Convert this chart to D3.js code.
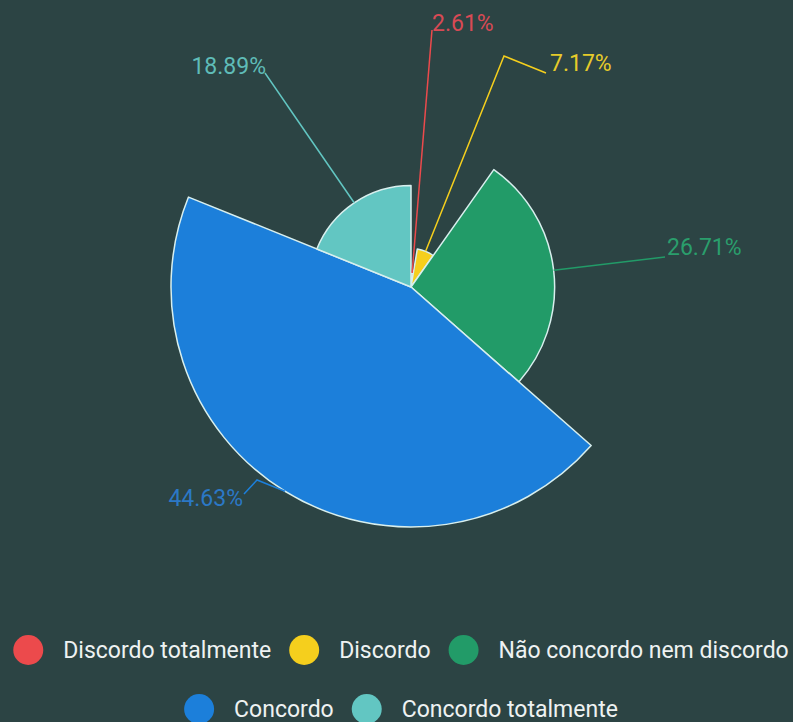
<!DOCTYPE html>
<html>
<head>
<meta charset="utf-8">
<script src="https://cdn.jsdelivr.net/npm/d3@7"></script>
<style>
  html, body { margin: 0; padding: 0; background: #2c4444; }
  svg { display: block; }
</style>
</head>
<body>
<div id="chart"></div>
<script>
var width = 793, height = 722;

// data
var categories = ["Discordo totalmente", "Discordo", "Não concordo nem discordo", "Concordo", "Concordo totalmente"];
var values = [2.61, 7.17, 26.71, 44.63, 18.89];
var colors = ["#ec4a4c", "#f5cf1d", "#229b68", "#1c7fda", "#62c6c2"];
var labelColors = ["#d84a55", "#e6cb2a", "#2a9e6c", "#2b78c6", "#5fbcb8"];

// label placement (elbow point, line end, text offset)
var labelElbow = [[432, 30], [504, 56], [665, 257], [257, 480], [265, 73]];
var labelEnd   = [[432, 30], [546, 73], [665, 257], [244, 494], [265, 73]];
var labelDx = [0, 4, 2, -1, 1];
var labelDy = [-7, -10, -10, 4, -7];
var labelAnchor = ["start", "start", "start", "end", "end"];
var legendRows = [[0, 1, 2], [3, 4]];

var cx = 411, cy = 287, maxR = 240;

var svg = d3.select("#chart").append("svg")
  .attr("width", width)
  .attr("height", height);

svg.append("rect")
  .attr("width", width)
  .attr("height", height)
  .attr("fill", "#2c4444");

var data = values.map(function(v, i) { return {name: categories[i], value: v, i: i}; });

// nightingale rose: angle and radius both follow value
var rScale = d3.scaleLinear().domain([0, d3.max(values)]).range([0, maxR]);
var pie = d3.pie().sort(null).value(function(d) { return d.value; });
var arcs = pie(data);

var arc = d3.arc()
  .innerRadius(0)
  .outerRadius(function(d) { return rScale(d.data.value); });

var g = svg.append("g").attr("transform", "translate(" + cx + "," + cy + ")");

g.selectAll("path.slice")
  .data(arcs)
  .enter().append("path")
  .attr("class", "slice")
  .attr("d", arc)
  .attr("fill", function(d) { return colors[d.data.i]; })
  .attr("stroke", "#d8efee")
  .attr("stroke-width", 1.5)
  .attr("stroke-linejoin", "round");

// label lines
svg.selectAll("polyline.lbl")
  .data(arcs)
  .enter().append("polyline")
  .attr("class", "lbl")
  .attr("fill", "none")
  .attr("stroke", function(d) { return colors[d.data.i]; })
  .attr("stroke-width", 1.5)
  .attr("points", function(d) {
    var a = (d.startAngle + d.endAngle) / 2,
      r = rScale(d.data.value);
    var sx = cx + Math.sin(a) * r, sy = cy - Math.cos(a) * r;
    var i = d.data.i;
    return [[sx, sy], labelElbow[i], labelEnd[i]].map(function(p) { return p.join(","); }).join(" ");
  });

svg.selectAll("text.lbl")
  .data(arcs)
  .enter().append("text")
  .attr("class", "lbl")
  .attr("x", function(d) { return labelEnd[d.data.i][0] + labelDx[d.data.i]; })
  .attr("y", function(d) { return labelEnd[d.data.i][1] + labelDy[d.data.i]; })
  .attr("text-anchor", function(d) { return labelAnchor[d.data.i]; })
  .attr("dominant-baseline", "central")
  .style("font-family", "Roboto, sans-serif")
  .style("font-size", "23px")
  .attr("fill", function(d) { return labelColors[d.data.i]; })
  .text(function(d) { return d.data.value.toFixed(2) + "%"; });

// legend
var legendY = [650, 709], symR = 15, gapSym = 20, gapItem = 18;
legendRows.forEach(function(row, ri) {
  var lg = svg.append("g");
  var x = 0;
  row.forEach(function(idx) {
    var item = lg.append("g").attr("transform", "translate(" + x + ",0)");
    item.append("circle")
      .attr("cx", symR)
      .attr("cy", 0)
      .attr("r", symR)
      .attr("fill", colors[idx]);
    var t = item.append("text")
      .attr("x", symR * 2 + gapSym)
      .attr("y", 0)
      .attr("dominant-baseline", "central")
      .style("font-family", "Roboto, sans-serif")
      .style("font-size", "23px")
      .attr("fill", "#eef2f2")
      .text(categories[idx]);
    x += symR * 2 + gapSym + t.node().getComputedTextLength() + gapItem;
  });
  x -= gapItem;
  lg.attr("transform", "translate(" + (401 - x / 2) + "," + legendY[ri] + ")");
});
</script>
</body>
</html>
